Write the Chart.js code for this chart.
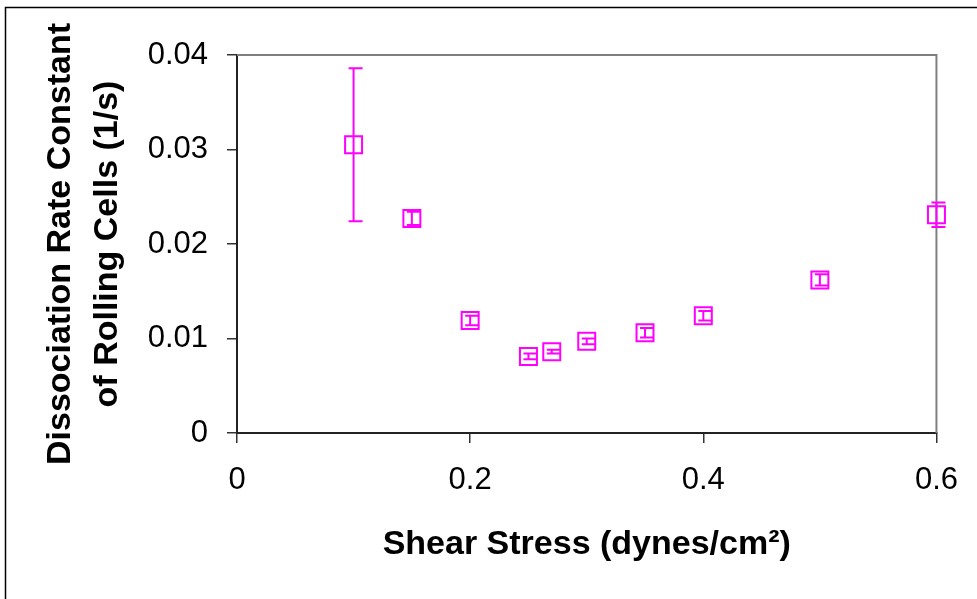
<!DOCTYPE html>
<html lang="en">
<head>
<meta charset="utf-8">
<title>Dissociation rate constant vs shear stress</title>
<style>
    body { margin: 0; background: #fff; }
</style>
</head>
<body>
<canvas id="myChart" width="977" height="599"></canvas>
<script src="https://cdn.jsdelivr.net/npm/chart.js"></script>
<script>
    // shear stress (dynes/cm2)
    const shearStress = [0.1, 0.15, 0.2, 0.25, 0.27, 0.3, 0.35, 0.4, 0.5, 0.6];
    // dissociation rate constant (1/s)
    const koff = [0.0305, 0.0227, 0.0119, 0.0081, 0.0086, 0.0097, 0.0106, 0.0124, 0.0162, 0.0231];
    // +/- error of each point
    const koffErr = [0.0081, 0.0007, 0.0005, 0.0003, 0.0002, 0.0003, 0.0005, 0.0005, 0.0006, 0.0013];

    const xTicks = [0, 0.2, 0.4, 0.6];
    const yTicks = [0, 0.01, 0.02, 0.03, 0.04];

    const FONT = "'Liberation Sans', Arial, sans-serif";
    const MAGENTA = '#ff00ff';

    // outer frame + grey top/right border of the plot
    const frame = {
        id: 'frame',
        beforeDraw(chart) {
            const ctx = chart.ctx;
            ctx.save();
            ctx.fillStyle = '#fff';
            ctx.fillRect(0, 0, chart.width, chart.height);
            ctx.strokeStyle = '#000';
            ctx.lineWidth = 1.5;
            ctx.strokeRect(5.5, 7.5, 1200, 1200);
            ctx.restore();
        },
        beforeDatasetsDraw(chart) {
            const a = chart.chartArea;
            const ctx = chart.ctx;
            ctx.save();
            ctx.strokeStyle = '#808080';
            ctx.lineWidth = 2;
            ctx.beginPath();
            ctx.moveTo(a.left, a.top);
            ctx.lineTo(a.right, a.top);
            ctx.lineTo(a.right, a.bottom);
            ctx.stroke();
            ctx.restore();
        }
    };

    // vertical error bars, drawn through the scales
    const errorBars = {
        id: 'errorBars',
        afterDatasetsDraw(chart) {
            const ctx = chart.ctx;
            const xs = chart.scales.x;
            const ys = chart.scales.y;
            ctx.save();
            ctx.strokeStyle = MAGENTA;
            ctx.lineWidth = 2;
            shearStress.forEach(function (v, i) {
                const px = xs.getPixelForValue(v);
                const top = ys.getPixelForValue(koff[i] + koffErr[i]);
                const bot = ys.getPixelForValue(koff[i] - koffErr[i]);
                ctx.beginPath();
                ctx.moveTo(px, top);
                ctx.lineTo(px, bot);
                ctx.moveTo(px - 5, top);
                ctx.lineTo(px + 9, top);
                ctx.moveTo(px - 5, bot);
                ctx.lineTo(px + 9, bot);
                ctx.stroke();
            });
            ctx.restore();
        }
    };

    new Chart(document.getElementById('myChart'), {
        type: 'scatter',
        data: {
            datasets: [{
                data: shearStress.map(function (v, i) { return {x: v, y: koff[i]}; }),
                showLine: false,
                pointStyle: 'rect',
                pointRadius: 12,
                pointHoverRadius: 12,
                borderColor: MAGENTA,
                backgroundColor: 'rgba(0,0,0,0)',
                borderWidth: 2,
                clip: false
            }]
        },
        options: {
            responsive: false,
            animation: false,
            layout: { padding: { top: 55, right: 37, bottom: 0, left: 0 } },
            plugins: {
                legend: { display: false },
                tooltip: { enabled: false }
            },
            scales: {
                x: {
                    type: 'linear',
                    min: 0,
                    max: 0.6,
                    afterBuildTicks: function (s) { s.ticks = xTicks.map(function (v) { return {value: v}; }); },
                    afterFit: function (s) { s.height = 166; },
                    grid: { drawOnChartArea: false, drawTicks: true, tickLength: 10, color: '#333', lineWidth: 1.5 },
                    border: { color: '#222', width: 2 },
                    ticks: { padding: 19, color: '#000', maxRotation: 0, font: { family: FONT, size: 31 } },
                    title: {
                        display: true,
                        text: 'Shear Stress (dynes/cm²)',
                        color: '#000',
                        font: { family: FONT, size: 34, weight: 'bold' },
                        padding: { top: 0, bottom: 34 }
                    }
                },
                y: {
                    type: 'linear',
                    min: 0,
                    max: 0.04,
                    afterBuildTicks: function (s) { s.ticks = yTicks.map(function (v) { return {value: v}; }); },
                    afterFit: function (s) { s.width = 237; },
                    grid: { drawOnChartArea: false, drawTicks: true, tickLength: 10, color: '#333', lineWidth: 1.5 },
                    border: { color: '#222', width: 2 },
                    ticks: { padding: 19, color: '#000', font: { family: FONT, size: 31 } },
                    title: {
                        display: true,
                        text: ['Dissociation Rate Constant', 'of Rolling Cells (1/s)'],
                        color: '#000',
                        font: { family: FONT, size: 34, weight: 'bold', lineHeight: 1.38 },
                        padding: { top: 37, bottom: 0 }
                    }
                }
            }
        },
        plugins: [frame, errorBars]
    });
</script>
</body>
</html>
